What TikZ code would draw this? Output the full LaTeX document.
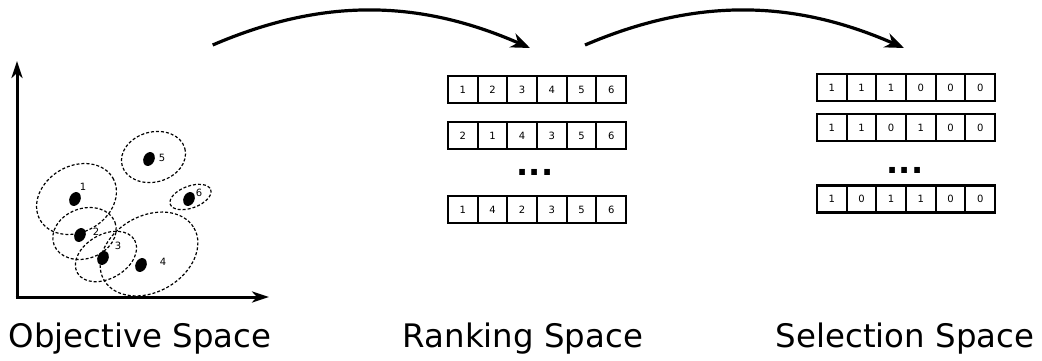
\documentclass[tikz,border=0pt]{standalone}
\usepackage{fontspec}
\setmainfont{DejaVu Sans}
\usetikzlibrary{arrows.meta,shapes.geometric}
\begin{document}
\begin{tikzpicture}[x=1pt,y=-1pt,
  axarrow/.style={line width=3pt,-{Stealth[length=17pt,width=11pt,inset=5pt]}},
  flow/.style={line width=3.2pt,-{Stealth[length=19pt,width=15pt,inset=6pt]}},
  ell/.style={draw,dash pattern=on 3pt off 2pt,line width=1.2pt},
  ptdot/.style={ellipse,fill=black,inner sep=0pt,minimum width=11pt,minimum height=14.5pt},
  lbl/.style={font=\fontsize{10}{12}\selectfont,inner sep=0pt},
  cell/.style={draw,line width=2.2pt,minimum width=29.67pt,minimum height=27pt,inner sep=0pt,font=\fontsize{10}{12}\selectfont},
  spacecap/.style={font=\fontsize{32.4}{38}\selectfont,anchor=base,inner sep=0pt},
  ellip/.style={font=\bfseries\fontsize{32}{36}\selectfont,inner sep=0pt}]
\path[use as bounding box] (0,0) rectangle (1042,360);

% axes
\coordinate (o) at (17,297);
\coordinate (ytop) at (17,61);
\coordinate (xend) at (269,297);
\draw[axarrow] (17,298.5) -- (ytop);
\draw[axarrow] (15.5,297) -- (xend);

% ellipses
\draw[ell,rotate around={30:(76.5,199)}] (76.5,199) ellipse[x radius=42,y radius=33];
\draw[ell,rotate around={20:(84.5,233.5)}] (84.5,233.5) ellipse[x radius=32.5,y radius=25];
\draw[ell,rotate around={30:(106,256.5)}] (106,256.5) ellipse[x radius=33,y radius=22];
\draw[ell,rotate around={30:(149,254)}] (149,254) ellipse[x radius=52,y radius=38];
\draw[ell,rotate around={15:(153.5,157)}] (153.5,157) ellipse[x radius=32.5,y radius=25];
\draw[ell,rotate around={20:(190.5,197)}] (190.5,197) ellipse[x radius=21.5,y radius=11];

% points
\node[ptdot,rotate=-25] (p1) at (75,199) {};
\node[ptdot,rotate=-25] (p2) at (80,235) {};
\node[ptdot,rotate=-25] (p3) at (103,258) {};
\node[ptdot,rotate=-25] (p4) at (141,265) {};
\node[ptdot,rotate=-25] (p5) at (149,159) {};
\node[ptdot,rotate=-25] (p6) at (189,199) {};
\node[lbl] (l1) at (83,187) {1};
\node[lbl] (l2) at (96,232) {2};
\node[lbl] (l3) at (118,246) {3};
\node[lbl] (l4) at (163,262) {4};
\node[lbl] (l5) at (162,158) {5};
\node[lbl] (l6) at (199,193) {6};

% ranking space
\foreach \row/\y/\vals in {a/89.5/{1,2,3,4,5,6}, b/135.5/{2,1,4,3,5,6}, c/209.5/{1,4,2,3,5,6}}{
  \foreach \v [count=\i] in \vals {
    \node[cell] (r\row\i) at ({448+14.83+(\i-1)*29.67},\y) {\v};
  }
}
\node[ellip] (rdots) at (535,172) {...};

% selection space
\foreach \row/\y/\vals in {a/87.5/{1,1,1,0,0,0}, b/127.5/{1,1,0,1,0,0}, c/199/{1,0,1,1,0,0}}{
  \foreach \v [count=\i] in \vals {
    \node[cell] (s\row\i) at ({817+14.83+(\i-1)*29.67},\y) {\v};
  }
}
\node[ellip] (sdots) at (905,170) {...};

% flow arrows
\coordinate (a1s) at (212.7,45);
\coordinate (a1e) at (530,48);
\coordinate (a2s) at (585,45);
\coordinate (a2e) at (904,48);
\draw[flow] (a1s) .. controls (322,-2) and (418,-1) .. (a1e);
\draw[flow] (a2s) .. controls (695,-2) and (792,-1) .. (a2e);

% captions
\node[spacecap] (c1) at (140,347) {Objective Space};
\node[spacecap] (c2) at (523,347) {Ranking Space};
\node[spacecap] (c3) at (905,347) {Selection Space};
\end{tikzpicture}
\end{document}
